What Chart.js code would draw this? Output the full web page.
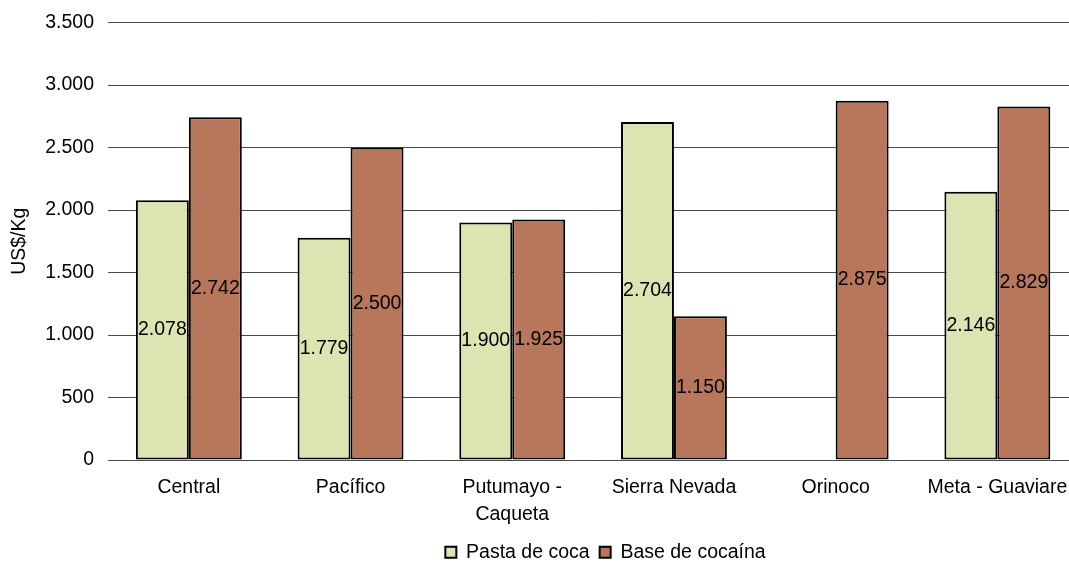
<!DOCTYPE html>
<html>
<head>
<meta charset="utf-8">
<script src="https://cdn.jsdelivr.net/npm/chart.js@4"></script>
<style>
  html, body { margin: 0; padding: 0; background: #ffffff; overflow: hidden; }
  #wrap { width: 1069px; height: 566px; overflow: hidden; position: relative; }
  canvas { display: block; }
</style>
</head>
<body>
<div id="wrap"><canvas id="chart" width="1082" height="572"></canvas></div>
<script>
// Precios por región (US$/Kg)
const regiones = ['Central', 'Pacífico', ['Putumayo -', 'Caqueta'], 'Sierra Nevada', 'Orinoco', 'Meta - Guaviare'];
const pastaDeCoca = [2078, 1779, 1900, 2704, null, 2146];
const baseDeCocaina = [2742, 2500, 1925, 1150, 2875, 2829];
const yTicks = [0, 500, 1000, 1500, 2000, 2500, 3000, 3500];

const FONT = 'Liberation Sans, Arial, sans-serif';
const fmt = v => v.toLocaleString('de-DE');

// Valor escrito en el centro de cada barra
const valueLabels = {
  id: 'valueLabels',
  afterDatasetsDraw(chart) {
    const ctx = chart.ctx;
    ctx.save();
    ctx.font = '19.5px ' + FONT;
    ctx.fillStyle = '#000';
    ctx.textAlign = 'center';
    ctx.textBaseline = 'middle';
    chart.data.datasets.forEach((ds, i) => {
      const meta = chart.getDatasetMeta(i);
      meta.data.forEach((bar, j) => {
        const v = ds.data[j];
        if (v === null || v === undefined) return;
        ctx.fillText(fmt(v), bar.x, (bar.y + bar.base) / 2);
      });
    });
    ctx.restore();
  }
};

// Desplaza la leyenda hacia la derecha
const legendShift = {
  id: 'legendShift',
  afterLayout(chart) {
    if (chart.legend) {
      chart.legend.left += 66;
      chart.legend.right += 66;
    }
  }
};

new Chart(document.getElementById('chart'), {
  type: 'bar',
  data: {
    labels: regiones,
    datasets: [
      {
        label: 'Pasta de coca',
        data: pastaDeCoca,
        backgroundColor: '#dde4b1',
        borderColor: '#000000',
        borderWidth: 2,
        borderSkipped: false,
        categoryPercentage: 0.655,
        barPercentage: 1.0
      },
      {
        label: 'Base de cocaína',
        data: baseDeCocaina,
        backgroundColor: '#b8775a',
        borderColor: '#000000',
        borderWidth: 2,
        borderSkipped: false,
        categoryPercentage: 0.655,
        barPercentage: 1.0
      }
    ]
  },
  options: {
    responsive: false,
    animation: false,
    devicePixelRatio: 1,
    layout: { padding: { top: 22.5, right: 3, left: 0, bottom: 0 } },
    plugins: {
      tooltip: { enabled: false },
      legend: {
        position: 'bottom',
        labels: {
          boxWidth: 11,
          boxHeight: 11,
          padding: 10,
          color: '#000',
          font: { family: FONT, size: 19.5 }
        }
      }
    },
    scales: {
      x: {
        grid: { display: false, drawTicks: false },
        border: { display: false },
        ticks: {
          color: '#000',
          font: { family: FONT, size: 19.5, lineHeight: 1.385 },
          padding: 14.5,
          maxRotation: 0,
          autoSkip: false
        },
        afterFit(scale) { scale.height = 72.5; }
      },
      y: {
        min: 0,
        max: 3500,
        afterBuildTicks(scale) { scale.ticks = yTicks.map(v => ({ value: v })); },
        grid: { color: '#4a4a4a', lineWidth: 1, drawTicks: false },
        border: { display: false },
        ticks: {
          color: '#000',
          font: { family: FONT, size: 19.5 },
          padding: 14,
          callback: v => fmt(v)
        },
        title: {
          display: true,
          text: 'US$/Kg',
          color: '#000',
          font: { family: FONT, size: 19.5 },
          padding: { top: 8, bottom: 0 }
        },
        afterFit(scale) {
          scale.width = 108;
          scale.paddingTop = 0;
          scale.paddingBottom = 0;
        }
      }
    }
  },
  plugins: [valueLabels, legendShift]
});
</script>
</body>
</html>
